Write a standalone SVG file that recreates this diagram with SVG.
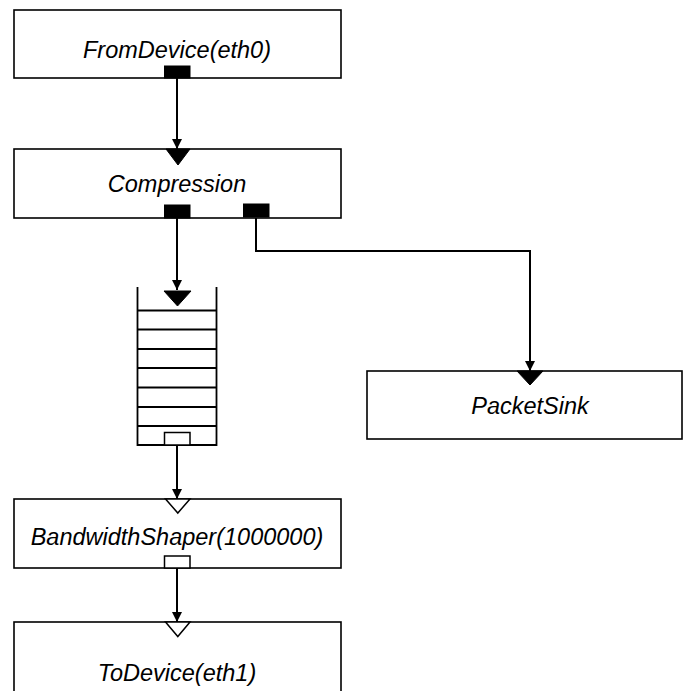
<svg xmlns="http://www.w3.org/2000/svg" width="683" height="691" viewBox="0 0 683 691">
<defs>
<style>
.box{fill:#fff;stroke:#000;stroke-width:1.6}
.lbl{font-family:"Liberation Sans",Arial,sans-serif;font-style:italic;font-size:23.5px;fill:#000;text-anchor:middle}
.pf{fill:#000;stroke:#000;stroke-width:1}
.ph{fill:#fff;stroke:#000;stroke-width:1.5}
.conn{fill:none;stroke:#000;stroke-width:2}
.q{stroke:#000;stroke-width:1.8;fill:none}
</style>
<marker id="arr" markerUnits="userSpaceOnUse" markerWidth="10" markerHeight="10" refX="10" refY="5" orient="auto" viewBox="0 0 10 10">
<path d="M0,0 L10,5 L0,10 z" fill="#000"/>
</marker>
</defs>
<g id="connectors">
<path class="conn" d="M177,78 V149" marker-end="url(#arr)"/>
<path class="conn" d="M177,218 V290" marker-end="url(#arr)"/>
<path class="conn" d="M256,217 V251 H530 V371" marker-end="url(#arr)"/>
<path class="conn" d="M177,445 V499" marker-end="url(#arr)"/>
<path class="conn" d="M177,568 V622" marker-end="url(#arr)"/>
</g>
<g id="fromdevice">
<rect class="box" x="14" y="10" width="327" height="68"/>
<text class="lbl" x="177" y="58">FromDevice(eth0)</text>
<rect class="pf" x="164.5" y="66" width="25.5" height="12"/>
</g>
<g id="compression">
<rect class="box" x="14" y="149" width="327" height="69"/>
<polygon class="pf" points="166,149 190,149 178,165"/>
<text class="lbl" x="177" y="192">Compression</text>
<rect class="pf" x="164.5" y="205" width="25.5" height="13"/>
<rect class="pf" x="243.5" y="204" width="25.5" height="13"/>
</g>
<g id="queue">
<path class="q" d="M137.5,287 V445 H216.5 V287"/>
<path class="q" d="M137.5,310.5 H216.5 M137.5,329.5 H216.5 M137.5,349 H216.5 M137.5,368 H216.5 M137.5,387.5 H216.5 M137.5,407 H216.5 M137.5,426 H216.5"/>
<polygon class="pf" points="164,291 191,291 177.5,306"/>
<rect class="ph" x="164.5" y="432.5" width="25.5" height="12.5"/>
</g>
<g id="packetsink">
<rect class="box" x="367" y="371" width="315" height="68"/>
<polygon class="pf" points="517,371 543,371 530,385"/>
<text class="lbl" x="530" y="414">PacketSink</text>
</g>
<g id="bandwidthshaper">
<rect class="box" x="14" y="499" width="327" height="69"/>
<polygon class="ph" points="165.5,499 190,499 177.8,513"/>
<text class="lbl" x="177" y="545">BandwidthShaper(1000000)</text>
<rect class="ph" x="164.5" y="556" width="25.5" height="12"/>
</g>
<g id="todevice">
<rect class="box" x="14" y="622" width="327" height="90"/>
<polygon class="ph" points="165.5,622 190,622 177.8,636.5"/>
<text class="lbl" x="177" y="681">ToDevice(eth1)</text>
</g>
</svg>
